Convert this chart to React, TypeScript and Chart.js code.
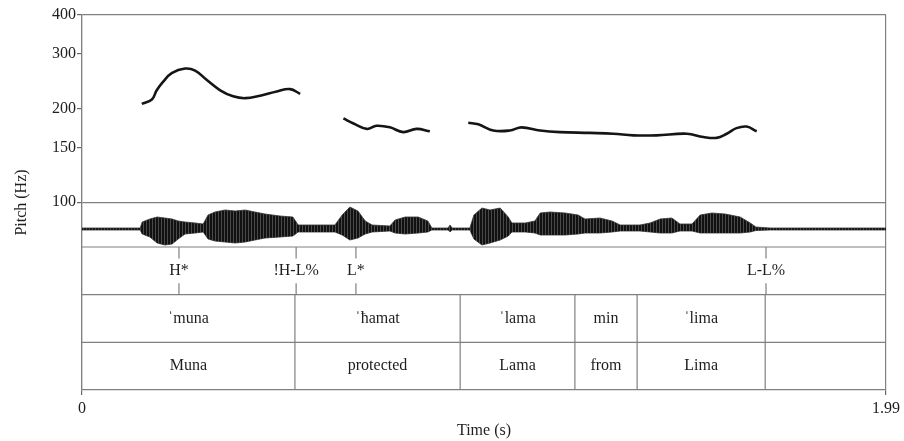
import React, { useEffect, useRef } from 'react';
import { Chart, registerables } from 'chart.js';
Chart.register(...registerables);

// Pitch track (s, Hz); null separates voiced stretches
const pitchTimes = [
  0.148, 0.173, 0.185, 0.201, 0.222, 0.255, 0.28, 0.309, 0.342, 0.374, 0.404, 0.441, 0.482, 0.515, 0.54, null,
  0.647, 0.672, 0.705, 0.729, 0.762, 0.795, 0.828, 0.861, null,
  0.956, 0.981, 1.018, 1.059, 1.088, 1.134, 1.183, 1.257, 1.315, 1.365, 1.422, 1.497, 1.538, 1.571, 1.596, 1.62, 1.645, 1.67,
];
const pitchHz = [
  207, 214, 229, 244, 260, 269, 265, 247, 229, 219, 216, 220, 227, 231, 223, null,
  186, 179, 172, 176, 174, 168, 172, 169, null,
  180, 178, 170, 170, 174, 170, 168, 167, 166, 164, 164, 166, 162, 161, 166, 173, 175, 169,
];

// Waveform amplitude envelope (arbitrary units)
const waveTimes = [
  0, 0.144, 0.149, 0.168, 0.186, 0.205, 0.223, 0.238, 0.255, 0.28, 0.3, 0.312, 0.329, 0.354, 0.379, 0.404,
  0.428, 0.453, 0.49, 0.522, 0.535, 0.577, 0.626, 0.644, 0.663, 0.683, 0.701, 0.718, 0.762, 0.775, 0.8,
  0.832, 0.856, 0.866, 0.906, 0.911, 0.916, 0.96, 0.97, 0.99, 1.01, 1.035, 1.055, 1.064, 1.097, 1.121,
  1.134, 1.158, 1.196, 1.228, 1.245, 1.282, 1.312, 1.332, 1.381, 1.406, 1.431, 1.46, 1.48, 1.51, 1.53,
  1.559, 1.592, 1.629, 1.654, 1.668, 1.703, 1.99,
];
const waveUpper = [
  1, 1, 7, 10, 12, 11, 10, 8, 7, 6, 5, 14, 17, 19, 18, 19,
  17, 15, 13, 12, 4, 4, 4, 14, 22, 18, 8, 4, 3, 9, 12,
  12, 8, 1, 1, 4, 1, 1, 14, 21, 19, 21, 12, 6, 6, 8,
  16, 17, 16, 14, 10, 11, 8, 4, 4, 6, 10, 11, 5, 5, 14,
  16, 15, 12, 6, 2, 1, 1,
];
const waveLower = [
  -1, -1, -5, -8, -14, -16, -15, -10, -5, -4, -3, -10, -12, -13, -14, -13,
  -11, -9, -8, -7, -3, -3, -3, -6, -11, -9, -5, -3, -2, -4, -5,
  -4, -3, -1, -1, -3, -1, -1, -10, -16, -14, -11, -7, -3, -3, -4,
  -6, -6, -6, -5, -4, -4, -3, -2, -2, -3, -4, -4, -2, -2, -4,
  -4, -4, -4, -3, -1.5, -1, -1,
];

// Annotation tiers
const toneTimes = [0.24, 0.53, 0.678, 1.693];
const toneLabels = ['H*', '!H-L%', 'L*', 'L-L%'];
const wordBounds = [0, 0.527, 0.936, 1.22, 1.374, 1.691, 1.99];
const ipaLabels = ['ˈmuna', 'ˈħamat', 'ˈlama', 'min', 'ˈlima', ''];
const glossLabels = ['Muna', 'protected', 'Lama', 'from', 'Lima', ''];

const pitchTicks = [100, 150, 200, 300, 400];
const timeTicks = [0, 1.99];

const FONT = '"Liberation Serif", "Times New Roman", serif';
const TEXT = '#1e1e1e';
const LINE = '#808080';

function stripePattern(): CanvasPattern | string {
  const c = document.createElement('canvas');
  c.width = 3;
  c.height = 1;
  const g = c.getContext('2d');
  if (!g) return '#222';
  g.fillStyle = '#111';
  g.fillRect(0, 0, 3, 1);
  g.fillStyle = '#4a4a4a';
  g.fillRect(2, 0, 1, 1);
  return g.createPattern(c, 'repeat') || '#222';
}

export default function App() {
  const ref = useRef<HTMLCanvasElement>(null);
  useEffect(() => {
    document.body.style.margin = '0';
    const canvas = ref.current!;
    const pitchData = pitchTimes.map((t, i) => ({ x: t ?? NaN, y: pitchHz[i] }));
    const up = waveTimes.map((t, i) => ({ x: t, y: waveUpper[i] }));
    const lo = waveTimes.map((t, i) => ({ x: t, y: waveLower[i] }));
    const tEnd = timeTicks[1];
    const hLines: any[] = [];
    [1, 2, 3].forEach((k) => {
      hLines.push({ x: 0, y: k }, { x: tEnd, y: k }, { x: tEnd, y: null });
    });
    const vLines: any[] = [];
    wordBounds.slice(1, -1).forEach((b) => {
      vLines.push({ x: b, y: 0 }, { x: b, y: 2 }, { x: b, y: null });
    });
    toneTimes.forEach((t) => {
      vLines.push({ x: t, y: 3 }, { x: t, y: 2.76 }, { x: t, y: null });
      vLines.push({ x: t, y: 2.24 }, { x: t, y: 2 }, { x: t, y: null });
    });

    const tierText = {
      id: 'tierText',
      afterDatasetsDraw(chart: any) {
        const { ctx, scales } = chart;
        const xs = scales.x;
        const ys = scales.yTier;
        ctx.save();
        ctx.font = '16px ' + FONT;
        ctx.fillStyle = TEXT;
        ctx.textAlign = 'center';
        ctx.textBaseline = 'middle';
        toneTimes.forEach((t, i) => {
          ctx.fillText(toneLabels[i], xs.getPixelForValue(t), ys.getPixelForValue(2.5));
        });
        for (let i = 0; i < wordBounds.length - 1; i++) {
          const cx = xs.getPixelForValue((wordBounds[i] + wordBounds[i + 1]) / 2);
          ctx.fillText(ipaLabels[i], cx, ys.getPixelForValue(1.5));
          ctx.fillText(glossLabels[i], cx, ys.getPixelForValue(0.5));
        }
        ctx.restore();
      },
    };

    const chart = new Chart(canvas, {
      type: 'line',
      data: {
        datasets: [
          {
            data: pitchData as any,
            yAxisID: 'y',
            borderColor: '#151515',
            borderWidth: 2.6,
            tension: 0.4,
            pointRadius: 0,
            spanGaps: false,
          },
          {
            data: up as any,
            yAxisID: 'yWave',
            borderColor: '#333',
            borderWidth: 0.8,
            backgroundColor: stripePattern() as any,
            fill: '+1',
            pointRadius: 0,
            tension: 0,
          },
          {
            data: lo as any,
            yAxisID: 'yWave',
            borderColor: '#333',
            borderWidth: 0.8,
            pointRadius: 0,
            fill: false,
            tension: 0,
          },
          {
            data: [{ x: 0, y: 0 }, { x: tEnd, y: 0 }] as any,
            yAxisID: 'yWave',
            borderColor: '#222',
            borderWidth: 1.5,
            pointRadius: 0,
            fill: false,
          },
          {
            data: hLines,
            yAxisID: 'yTier',
            borderColor: LINE,
            borderWidth: 1.2,
            pointRadius: 0,
            fill: false,
            spanGaps: false,
          },
          {
            data: vLines,
            yAxisID: 'yTier',
            borderColor: LINE,
            borderWidth: 1.2,
            pointRadius: 0,
            fill: false,
            spanGaps: false,
          },
        ],
      },
      options: {
        responsive: false,
        animation: false,
        devicePixelRatio: 1,
        events: [],
        layout: { padding: { top: 15, right: 18, left: 0, bottom: 0 } },
        plugins: { legend: { display: false }, tooltip: { enabled: false } },
        scales: {
          x: {
            type: 'linear',
            min: 0,
            max: tEnd,
            afterBuildTicks: (s: any) => {
              s.ticks = timeTicks.map((v) => ({ value: v }));
            },
            afterFit: (s: any) => {
              s.height = 51;
            },
            ticks: {
              autoSkip: false,
              maxRotation: 0,
              padding: 4,
              color: TEXT,
              font: { family: FONT, size: 16 },
              callback: (v: any) => String(v),
            },
            grid: { color: LINE, lineWidth: 1.2, tickColor: '#666', tickLength: 5 },
            border: { color: LINE, width: 1.2 },
            title: {
              display: true,
              text: 'Time (s)',
              color: TEXT,
              font: { family: FONT, size: 16 },
              padding: { top: 0, bottom: 1 },
            },
          },
          y: {
            type: 'logarithmic',
            position: 'left',
            min: 24.86,
            max: 400,
            afterBuildTicks: (s: any) => {
              s.ticks = pitchTicks.map((v) => ({ value: v }));
            },
            afterFit: (s: any) => {
              s.width = 82;
            },
            ticks: {
              autoSkip: false,
              padding: 1,
              color: TEXT,
              font: { family: FONT, size: 16 },
              callback: (v: any) => String(v),
            },
            grid: {
              color: (c: any) => (c.tick && (c.tick.value === 100 || c.tick.value === 400) ? LINE : 'rgba(0,0,0,0)'),
              tickColor: '#666',
              lineWidth: 1.2,
              tickLength: 5,
            },
            border: { color: LINE, width: 1.2 },
            title: {
              display: true,
              text: 'Pitch (Hz)',
              color: TEXT,
              font: { family: FONT, size: 16 },
              padding: { top: 12, bottom: 0 },
            },
          },
          yWave: { type: 'linear', display: false, min: -161, max: 214 },
          yTier: { type: 'linear', display: false, min: 0, max: 7.867 },
        },
      },
      plugins: [tierText],
    });
    return () => chart.destroy();
  }, []);
  return (
    <div style={{ width: 904, height: 441 }}>
      <canvas ref={ref} width={904} height={441} style={{ display: 'block', width: 904, height: 441 }} />
    </div>
  );
}
